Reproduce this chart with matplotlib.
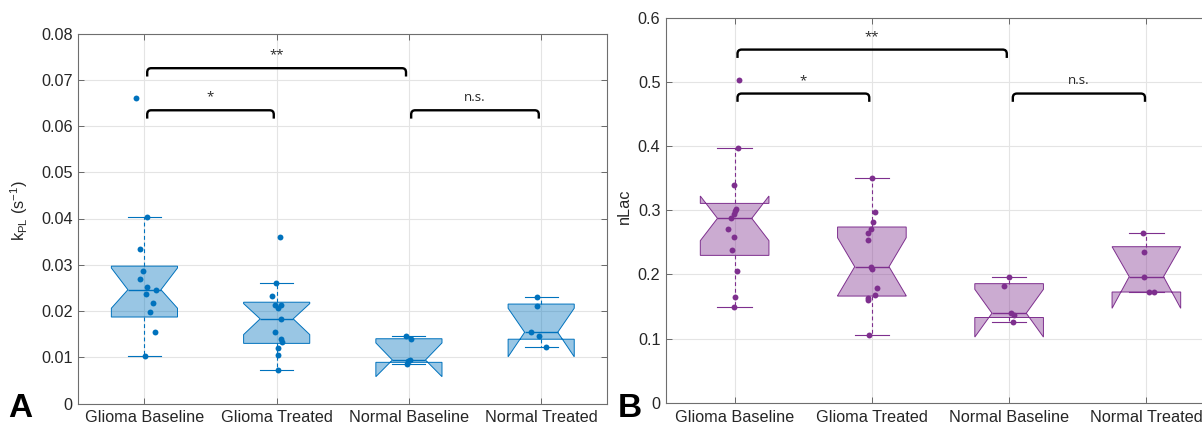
import matplotlib.pyplot as plt
from matplotlib.path import Path
from matplotlib.patches import PathPatch
from matplotlib.colors import to_rgba

plt.rcParams['font.family'] = ['Liberation Sans', 'DejaVu Sans']
plt.rcParams['mathtext.default'] = 'regular'

GROUPS = ['Glioma Baseline', 'Glioma Treated', 'Normal Baseline', 'Normal Treated']

# ---- panel A: kPL (s^-1) ----
kpl_gb = [0.0661, 0.0404, 0.0334, 0.0286, 0.0270, 0.0251, 0.0246, 0.0237, 0.0218, 0.0197, 0.0155, 0.0103]
kpl_gt = [0.0361, 0.0260, 0.0233, 0.0214, 0.0213, 0.0207, 0.0182, 0.0155, 0.0140, 0.0134, 0.0119, 0.0105, 0.0072]
kpl_nb = [0.0147, 0.0139, 0.0094, 0.0091, 0.0085]
kpl_nt = [0.0230, 0.0210, 0.0155, 0.0145, 0.0122]

# horizontal jitter of the swarm points (category units)
kpl_gb_jit = [-0.063, 0.018, -0.033, -0.013, -0.033, 0.020, 0.091, 0.013, 0.068, 0.045, 0.078, 0.008]
kpl_gt_jit = [0.023, -0.005, -0.034, 0.031, -0.010, 0.010, 0.031, -0.010, 0.031, 0.039, 0.008, 0.013, 0.013]
kpl_nb_jit = [-0.025, 0.018, 0.005, -0.005, -0.013]
kpl_nt_jit = [-0.028, -0.028, -0.076, -0.018, 0.035]

# box statistics (quartiles, median, notch limits, whisker ends)
kpl_q1 = [0.0187, 0.0130, 0.0089, 0.0139]
kpl_med = [0.0246, 0.0183, 0.0094, 0.0154]
kpl_q3 = [0.0297, 0.0219, 0.0140, 0.0215]
kpl_cilo = [0.0206, 0.0149, 0.0058, 0.0101]
kpl_cihi = [0.0293, 0.0216, 0.0131, 0.0206]
kpl_whislo = [0.0103, 0.0072, 0.0085, 0.0122]
kpl_whishi = [0.0404, 0.0260, 0.0147, 0.0230]

kpl_brackets = [(1.021, 2.978, 0.0725, 0.0707, '**'),
                (1.021, 1.978, 0.0634, 0.0616, '*'),
                (3.017, 3.982, 0.0634, 0.0616, 'n.s.')]

# ---- panel B: nLac ----
nlac_gb = [0.5034, 0.3964, 0.3392, 0.3018, 0.2987, 0.2940, 0.2873, 0.2701, 0.2582, 0.2379, 0.2047, 0.1652, 0.1491]
nlac_gt = [0.3506, 0.2971, 0.2821, 0.2712, 0.2649, 0.2535, 0.2119, 0.2083, 0.1782, 0.1673, 0.1626, 0.1600, 0.1049]
nlac_nb = [0.1959, 0.1824, 0.1400, 0.1359, 0.1251]
nlac_nt = [0.2649, 0.2353, 0.1958, 0.1725, 0.1725]

nlac_gb_jit = [0.034, 0.024, -0.005, 0.010, 0.005, -0.007, -0.024, -0.046, -0.005, -0.022, 0.015, 0.005, -0.005]
nlac_gt_jit = [0.0, 0.026, 0.005, -0.008, -0.031, -0.031, -0.003, 0.0, 0.037, 0.023, -0.026, -0.031, -0.021]
nlac_nb_jit = [0.0, -0.039, 0.012, 0.039, 0.027]
nlac_nt_jit = [-0.027, -0.017, -0.015, 0.022, 0.058]

nlac_q1 = [0.2296, 0.1662, 0.1328, 0.1725]
nlac_med = [0.2873, 0.2119, 0.1395, 0.1964]
nlac_q3 = [0.3106, 0.2738, 0.1855, 0.2431]
nlac_cilo = [0.2525, 0.1667, 0.1023, 0.1471]
nlac_cihi = [0.3221, 0.2571, 0.1767, 0.2431]
nlac_whislo = [0.1491, 0.1049, 0.1251, 0.1725]
nlac_whishi = [0.3964, 0.3506, 0.1959, 0.2649]

nlac_brackets = [(1.021, 2.983, 0.5503, 0.5373, '**'),
                 (1.021, 1.981, 0.4818, 0.4689, '*'),
                 (3.027, 3.990, 0.4818, 0.4689, 'n.s.')]

BLUE = '#0072BD'
PURPLE = '#7E2F8E'


def box_stats(q1, med, q3, cilo, cihi, wlo, whi):
    return [dict(q1=a, med=b, q3=c, cilo=d, cihi=e, whislo=f, whishi=g, fliers=[])
            for a, b, c, d, e, f, g in zip(q1, med, q3, cilo, cihi, wlo, whi)]


def draw_bracket(ax, x0, x1, ytop, ybot, label):
    rx = 0.03
    ry = 0.5 * (ytop - ybot)
    verts = [(x0, ybot), (x0, ytop - ry), (x0, ytop), (x0 + rx, ytop),
             (x1 - rx, ytop), (x1, ytop), (x1, ytop - ry), (x1, ybot)]
    codes = [Path.MOVETO, Path.LINETO, Path.CURVE3, Path.CURVE3,
             Path.LINETO, Path.CURVE3, Path.CURVE3, Path.LINETO]
    ax.add_patch(PathPatch(Path(verts, codes), fill=False, lw=1.7,
                           edgecolor='black', capstyle='butt', zorder=6))
    ax.annotate(label, ((x0 + x1) / 2, ytop), xytext=(0, 7),
                textcoords='offset points', ha='center', va='baseline',
                fontsize=9.5, family=['Open Sans', 'DejaVu Sans'], color='#262626')


def draw_panel(ax, stats, groups, jitters, color, brackets, ylim, yticks, ylabel):
    ax.bxp(stats, positions=[1, 2, 3, 4], widths=0.5, capwidths=0.25,
           shownotches=True, showfliers=False, patch_artist=True,
           boxprops=dict(facecolor=to_rgba(color, 0.4), edgecolor=color, lw=0.7),
           medianprops=dict(color=color, lw=1.0),
           whiskerprops=dict(color=color, lw=0.8, linestyle=(0, (3.5, 2.5))),
           capprops=dict(color=color, lw=0.8), zorder=3)
    for i, (vals, jit) in enumerate(zip(groups, jitters)):
        xs = [i + 1 + j for j in jit]
        ax.scatter(xs, vals, s=18, color=color, linewidths=0, zorder=5)
    for x0, x1, yt, yb, lab in brackets:
        draw_bracket(ax, x0, x1, yt, yb, lab)

    ax.set_xlim(0.5, 4.5)
    ax.set_ylim(*ylim)
    ax.set_xticks([1, 2, 3, 4])
    ax.set_xticklabels(GROUPS)
    ax.set_yticks(yticks)
    ax.set_yticklabels([f'{v:g}' for v in yticks])
    ax.tick_params(direction='in', top=True, right=True, length=4, width=0.6,
                   color='#555555', labelsize=11.7, labelcolor='#262626')
    ax.tick_params(axis='y', pad=4)
    ax.tick_params(axis='x', pad=5)
    ax.grid(True, color='#e4e4e4', lw=0.8)
    ax.set_axisbelow(True)
    for s in ax.spines.values():
        s.set_color('#6e6e6e')
        s.set_linewidth(0.8)
    ax.set_ylabel(ylabel, fontsize=11.7, color='#262626')


W, H = 1202, 428
fig = plt.figure(figsize=(W / 100, H / 100), dpi=100)
axA = fig.add_axes([78.3 / W, (H - 403.5) / H, 529 / W, 370 / H])
axB = fig.add_axes([666 / W, (H - 402.7) / H, 549 / W, 385 / H])

draw_panel(axA,
           box_stats(kpl_q1, kpl_med, kpl_q3, kpl_cilo, kpl_cihi, kpl_whislo, kpl_whishi),
           [kpl_gb, kpl_gt, kpl_nb, kpl_nt],
           [kpl_gb_jit, kpl_gt_jit, kpl_nb_jit, kpl_nt_jit],
           BLUE, kpl_brackets, (0, 0.08),
           [0, 0.01, 0.02, 0.03, 0.04, 0.05, 0.06, 0.07, 0.08],
           r'k$_{PL}$ (s$^{-1}$)')
axA.yaxis.set_label_coords(-0.091, 0.52)

draw_panel(axB,
           box_stats(nlac_q1, nlac_med, nlac_q3, nlac_cilo, nlac_cihi, nlac_whislo, nlac_whishi),
           [nlac_gb, nlac_gt, nlac_nb, nlac_nt],
           [nlac_gb_jit, nlac_gt_jit, nlac_nb_jit, nlac_nt_jit],
           PURPLE, nlac_brackets, (0, 0.6),
           [0, 0.1, 0.2, 0.3, 0.4, 0.5, 0.6],
           'nLac')
axB.yaxis.set_label_coords(-0.062, 0.51)

fig.text(8 / W, (H - 417) / H, 'A', fontsize=24, fontweight='bold', va='baseline')
fig.text(618 / W, (H - 417) / H, 'B', fontsize=24, fontweight='bold', va='baseline')

fig.savefig('out.png', dpi=100)
